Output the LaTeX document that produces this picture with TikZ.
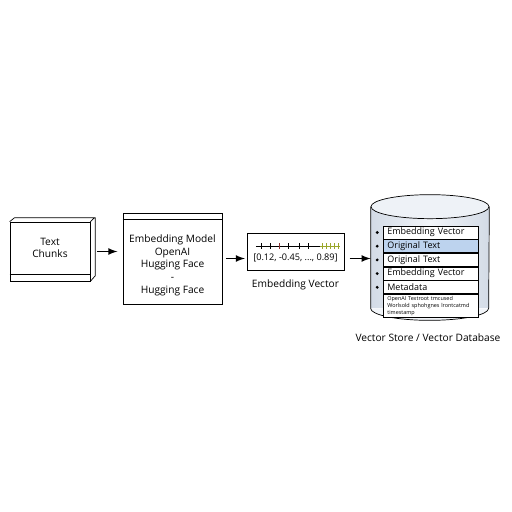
\documentclass[tikz,border=0pt]{standalone}
\usepackage{fontspec}
\setmainfont{Open Sans}
\usetikzlibrary{positioning}
\definecolor{rowblue}{HTML}{BDD3EE}
\definecolor{storefill}{HTML}{F2F5F9}
\definecolor{storeedge}{HTML}{D3DBE6}
\definecolor{storetop}{HTML}{EEF2F7}
\definecolor{tickgreen}{HTML}{9AA62A}
\definecolor{tickred}{HTML}{8B2F2F}

\begin{document}
\begin{tikzpicture}[x=0.02cm, y=-0.02cm,
  block/.style={rectangle, draw, fill=white, inner sep=0pt, align=center, font=\fontsize{5.8}{7.2}\selectfont},
  row/.style={rectangle, draw, fill=white, minimum width=1.9cm, minimum height=0.26cm, inner sep=0pt, inner xsep=2.5pt, text width=1.9cm-5pt, align=left, font=\fontsize{5.1}{5.5}\selectfont},
  dot/.style={circle, fill, inner sep=0pt, minimum size=1.8pt},
  caption/.style={font=\fontsize{5.8}{7}\selectfont},
  line/.style={draw, -latex, thick}
]
\useasboundingbox (0,0) rectangle (512,512);

% text chunks (3d box)
\node [block, minimum width=1.6cm, minimum height=1.18cm] (chunks) at (50,251.5) {Text\\ Chunks\rule[-4pt]{0pt}{0pt}};
\draw (chunks.north west) -- ++(5,-4) -- ++(80,0) -- (chunks.north east);
\draw (chunks.north east) ++(5,-4) -- ++(0,58) -- (chunks.south east);
\draw (chunks.south west) ++(0,-7) -- ++(80,0);

% embedding model
\node [block, minimum width=1.98cm, minimum height=1.82cm] (model) at (172.5,258.5) {\rule{0pt}{12pt}Embedding Model\\ OpenAI\\ Hugging Face\\ -\\ Hugging Face};
\draw (model.north west) ++(0,7) -- ++(99,0);

% embedding vector
\node [block, minimum width=1.94cm, minimum height=0.74cm, font=\fontsize{5.2}{6}\selectfont] (vector) at (295.5,251.5) {\rule{0pt}{11pt}[0.12, -0.45, ..., 0.89]};
\node [caption, below=2pt of vector] (veclabel) {Embedding Vector};
\draw (256,246) -- (320,246);
\draw (261,243) -- (261,249) (270,243) -- (270,249) (288,243) -- (288,249)
      (299,243) -- (299,249) (308,243) -- (308,249);
\draw [tickred] (279,243) -- (279,249);
\draw [tickgreen] (320,246) -- (340,246)
      (322,243) -- (322,249) (326,243) -- (326,249) (330,243) -- (330,249)
      (334,243) -- (334,249) (338,243) -- (338,249);

% vector store
\node [rectangle, left color=storeedge, right color=storeedge, middle color=storefill, minimum width=2.36cm, minimum height=2.02cm, inner sep=0pt] (store) at (430,257.5) {};
\fill [storefill] (store.south west) arc[start angle=180, end angle=0, x radius=59, y radius=12] -- cycle;
\draw (store.north west) -- (store.south west) arc[start angle=180, end angle=0, x radius=59, y radius=12] -- (store.north east);
\draw [fill=storetop] (store.north) ellipse[x radius=59, y radius=12];

\node [row] (row1) at (430.5,232.5) {Embedding Vector};
\node [row, below=0pt of row1, fill=rowblue] (row2) {Original Text};
\node [row, below=0pt of row2] (row3) {Original Text};
\node [row, below=0pt of row3] (row4) {Embedding Vector};
\node [row, below=0pt of row4] (row5) {Metadata};
\node [row, below=0pt of row5, minimum height=0.46cm, font=\fontsize{3.1}{4}\selectfont] (row6) {\mbox{OpenAI Textroot tmcused}\\ \mbox{Worlsold sphohgnes lrontcatmd}\\ timestamp};
\node [dot, left=2pt of row1] (b1) {};
\node [dot, left=2pt of row2] (b2) {};
\node [dot, left=2pt of row3] (b3) {};
\node [dot, left=2pt of row4] (b4) {};
\node [dot, left=2pt of row5] (b5) {};
\node [caption] (storelabel) at (428,338) {Vector Store / Vector Database};

\path [line] ([xshift=4pt]chunks.east) -- ([xshift=-3pt]chunks.east -| model.west);
\path [line] ([xshift=2pt]model.east) -- ([xshift=-1pt]model.east -| vector.west);
\path [line] ([xshift=3pt]vector.east |- model.east) -- (model.east -| store.west);
\end{tikzpicture}
\end{document}
